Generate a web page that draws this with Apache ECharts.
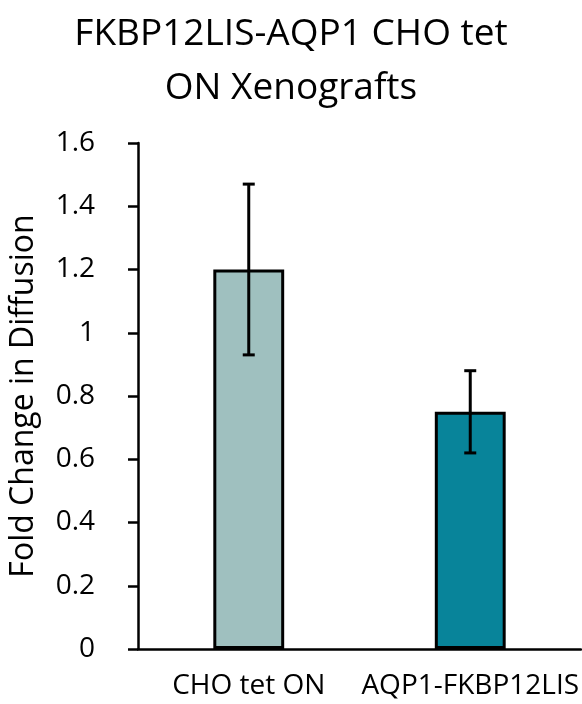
<!DOCTYPE html>
<html>
<head>
<meta charset="utf-8">
<script src="https://cdn.jsdelivr.net/npm/echarts@6/dist/echarts.min.js"></script>
<style>
  html, body { margin: 0; padding: 0; background: #ffffff; }
  #chart { width: 582px; height: 704px; }
</style>
</head>
<body>
<div id="chart"></div>
<script>
// Groups, mean fold change and standard error
const categories = ['CHO tet ON', 'AQP1-FKBP12LIS'];
const foldChange = [1.2, 0.75];
const errorValues = [0.27, 0.13];
const barColors = ['#9fc0bf', '#08849a'];
const yTicks = { min: 0, max: 1.6, interval: 0.2 };

const FONT = '"Open Sans", sans-serif';

const chart = echarts.init(document.getElementById('chart'), null, { renderer: 'canvas' });

const barData = foldChange.map((v, i) => ({
  value: v,
  itemStyle: { color: barColors[i] }
}));

const errorData = foldChange.map((v, i) => [i, v - errorValues[i], v + errorValues[i]]);

chart.setOption({
  animation: false,
  backgroundColor: '#ffffff',
  title: {
    text: 'FKBP12LIS-AQP1 CHO tet\nON Xenografts',
    left: 'center',
    top: 2,
    textStyle: {
      fontFamily: FONT,
      fontSize: 37,
      fontWeight: 'normal',
      color: '#000000',
      lineHeight: 54
    }
  },
  grid: { left: 127, right: 1, top: 143, bottom: 55, containLabel: false },
  xAxis: {
    type: 'category',
    data: categories,
    axisLine: { show: true, lineStyle: { color: '#000000', width: 2.5 } },
    axisTick: { show: false },
    axisLabel: {
      fontFamily: FONT,
      fontSize: 28,
      color: '#000000',
      margin: 23,
      interval: 0
    }
  },
  yAxis: {
    type: 'value',
    min: yTicks.min,
    max: yTicks.max,
    interval: yTicks.interval,
    name: 'Fold Change in Diffusion',
    nameLocation: 'middle',
    nameGap: 98,
    nameTextStyle: { fontFamily: FONT, fontSize: 32, color: '#000000' },
    axisLine: { show: true, lineStyle: { color: '#000000', width: 2.5 } },
    axisTick: { show: true, length: 10, inside: false, lineStyle: { color: '#000000', width: 2.5 } },
    splitLine: { show: false },
    axisLabel: {
      fontFamily: FONT,
      fontSize: 28,
      color: '#000000',
      margin: 43,
      formatter: v => String(Math.round(v * 10) / 10)
    }
  },
  series: [
    {
      type: 'bar',
      data: barData,
      barWidth: '32%',
      itemStyle: { borderColor: '#000000', borderWidth: 3 },
      z: 2
    },
    {
      type: 'custom',
      data: errorData,
      z: 3,
      renderItem: function (params, api) {
        const x = api.value(0);
        const low = api.coord([x, api.value(1)]);
        const high = api.coord([x, api.value(2)]);
        const half = 6;
        const style = { stroke: '#000000', lineWidth: 3, fill: null };
        return {
          type: 'group',
          children: [
            { type: 'line', shape: { x1: high[0], y1: high[1], x2: low[0], y2: low[1] }, style: style },
            { type: 'line', shape: { x1: high[0] - half, y1: high[1], x2: high[0] + half, y2: high[1] }, style: style },
            { type: 'line', shape: { x1: low[0] - half, y1: low[1], x2: low[0] + half, y2: low[1] }, style: style }
          ]
        };
      }
    }
  ]
});
</script>
</body>
</html>
